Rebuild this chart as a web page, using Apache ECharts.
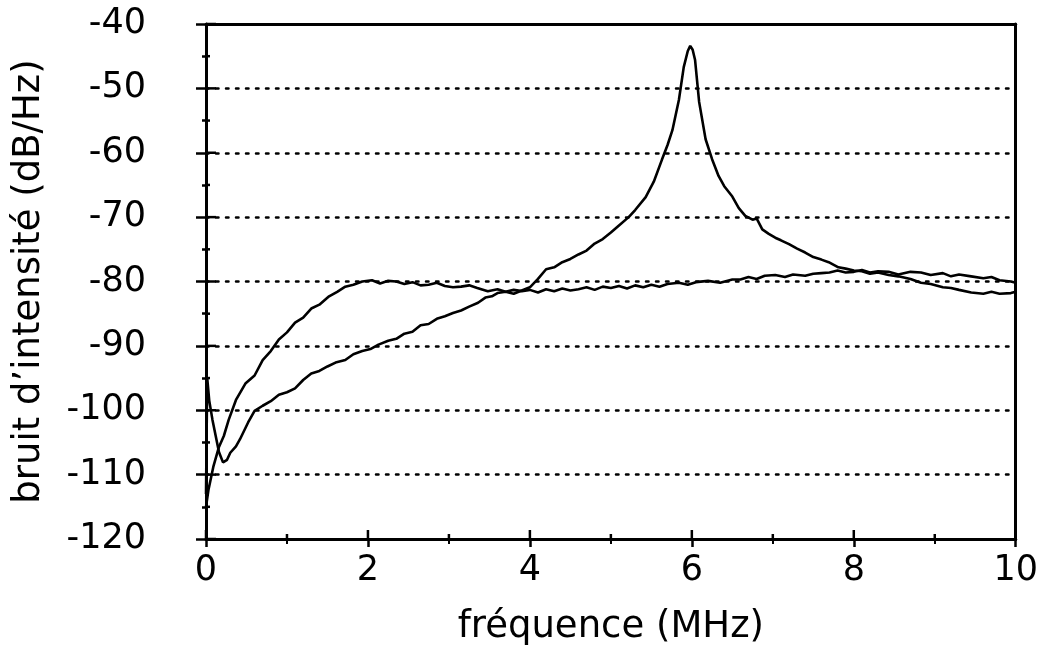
<!DOCTYPE html>
<html>
<head>
<meta charset="utf-8">
<script src="https://cdn.jsdelivr.net/npm/echarts@6/dist/echarts.min.js"></script>
<style>html,body{margin:0;padding:0;background:#fff}#c{width:1041px;height:668px}</style>
</head>
<body>
<div id="c"></div>
<script>
// x ticks and y ticks
const xTicks = [0, 2, 4, 6, 8, 10];
const xMinorTicks = [1, 3, 5, 7, 9];
const yTicks = [-120, -110, -100, -90, -80, -70, -60, -50, -40];
const yMinorTicks = [-115, -105, -95, -85, -75, -65, -55, -45];

// Curve A: flat curve (plateau from 2 MHz)
const freqA = [0,0.03,0.09,0.16,0.22,0.28,0.37,0.49,0.6,0.7,0.8,0.9,1.0,1.1,1.2,1.3,1.4,1.52,1.62,1.72,1.82,1.93,2.05,2.15,2.25,2.35,2.45,2.55,2.65,2.75,2.85,2.95,3.05,3.15,3.25,3.35,3.48,3.6,3.7,3.8,3.9,4.0,4.1,4.2,4.3,4.4,4.5,4.6,4.7,4.8,4.9,5.0,5.1,5.2,5.3,5.4,5.5,5.6,5.7,5.84,5.95,6.05,6.2,6.35,6.5,6.6,6.7,6.8,6.9,7.03,7.15,7.25,7.4,7.5,7.6,7.7,7.8,7.9,8.0,8.1,8.2,8.3,8.43,8.55,8.7,8.83,8.95,9.1,9.2,9.3,9.45,9.6,9.7,9.8,9.94,10];
const valA = [-115,-112.4,-108.8,-105.7,-104,-101.5,-98.4,-95.8,-94.6,-92.2,-90.8,-89,-87.9,-86.4,-85.6,-84.2,-83.6,-82.3,-81.6,-80.8,-80.5,-80,-79.8,-80.3,-79.9,-80,-80.4,-80.1,-80.6,-80.5,-80.2,-80.7,-80.9,-80.8,-80.6,-81,-81.5,-81.2,-81.6,-81.3,-81.5,-81.3,-81.7,-81.2,-81.5,-81.1,-81.4,-81.2,-80.9,-81.3,-80.8,-81,-80.7,-81.1,-80.6,-80.9,-80.5,-80.8,-80.4,-80.2,-80.5,-80.1,-79.9,-80.2,-79.7,-79.7,-79.3,-79.6,-79.1,-79,-79.3,-78.9,-79.1,-78.8,-78.7,-78.6,-78.3,-78.6,-78.5,-78.2,-78.6,-78.4,-78.5,-78.9,-78.5,-78.6,-79,-78.7,-79.2,-78.9,-79.2,-79.5,-79.3,-79.8,-80,-80.2];

// Curve B: curve with resonance peak at 6 MHz
const freqB = [0,0.015,0.04,0.08,0.12,0.16,0.21,0.26,0.3,0.37,0.42,0.52,0.6,0.7,0.8,0.9,1.0,1.1,1.2,1.3,1.4,1.5,1.6,1.72,1.82,1.93,2.03,2.13,2.25,2.35,2.45,2.55,2.65,2.75,2.85,2.95,3.05,3.15,3.25,3.36,3.45,3.53,3.6,3.7,3.8,3.9,4.0,4.1,4.2,4.3,4.4,4.5,4.6,4.7,4.8,4.9,5.0,5.1,5.22,5.3,5.43,5.53,5.63,5.7,5.76,5.84,5.9,5.95,5.98,6.01,6.04,6.09,6.17,6.25,6.33,6.4,6.5,6.58,6.66,6.75,6.8,6.87,6.95,7.03,7.1,7.2,7.3,7.4,7.5,7.6,7.69,7.81,7.9,8.0,8.1,8.2,8.3,8.43,8.55,8.7,8.83,8.95,9.1,9.2,9.3,9.45,9.6,9.7,9.8,9.94,10];
const valB = [-113,-95,-98.5,-101.5,-104,-106.5,-108.1,-107.7,-106.6,-105.6,-104.5,-101.9,-100.1,-99.3,-98.6,-97.6,-97.2,-96.6,-95.3,-94.3,-93.9,-93.2,-92.6,-92.2,-91.3,-90.8,-90.5,-89.8,-89.2,-88.9,-88.1,-87.8,-86.8,-86.6,-85.8,-85.4,-84.9,-84.5,-83.9,-83.3,-82.5,-82.3,-81.8,-81.6,-81.9,-81.4,-80.9,-79.6,-78.1,-77.8,-77,-76.5,-75.8,-75.2,-74.1,-73.4,-72.4,-71.3,-70,-68.9,-66.9,-64.5,-61.1,-58.8,-56.5,-51.8,-46.7,-44.2,-43.4,-44,-45.6,-52.1,-57.9,-61,-63.6,-65.2,-66.8,-68.6,-69.8,-70.4,-70.2,-71.9,-72.6,-73.2,-73.6,-74.2,-74.9,-75.5,-76.2,-76.6,-77,-77.8,-78,-78.3,-78.4,-78.8,-78.6,-79,-79.2,-79.6,-80.2,-80.4,-80.9,-81,-81.3,-81.7,-81.9,-81.6,-81.9,-81.8,-81.6];

const FONT = 'DejaVu Sans';
const black = '#000';
const xMin = xTicks[0], xMax = xTicks[xTicks.length-1], xInt = xTicks[1]-xTicks[0];
const yMin = yTicks[0], yMax = yTicks[yTicks.length-1], yInt = yTicks[1]-yTicks[0];

const chart = echarts.init(document.getElementById('c'), null, {renderer:'canvas'});

function baseX(extra){
  return Object.assign({type:'value', min:xMin, max:xMax, interval:xInt,
    splitLine:{show:false}}, extra);
}
function baseY(extra){
  return Object.assign({type:'value', min:yMin, max:yMax, interval:yInt}, extra);
}
const lineSt = {show:true, onZero:false, lineStyle:{color:black, width:3}};

chart.setOption({
  animation:false,
  backgroundColor:'#fff',
  grid:{left:206, right:23, top:24, bottom:129, containLabel:false},
  xAxis:[
    baseX({position:'bottom', offset:0,
      axisLine:lineSt,
      axisTick:{show:true, inside:false, length:8, lineStyle:{color:black, width:2.5}},
      minorTick:{show:true, splitNumber:2, length:5, lineStyle:{color:black, width:2}},
      axisLabel:{show:true, color:black, fontFamily:FONT, fontSize:35, margin:14},
      name:'fréquence (MHz)', nameLocation:'middle', nameGap:70,
      nameTextStyle:{color:black, fontFamily:FONT, fontSize:37}
    }),
    baseX({position:'top', offset:0,
      axisLine:lineSt,
      axisTick:{show:false}, axisLabel:{show:false}
    })
  ],
  yAxis:[
    baseY({position:'left', offset:0,
      axisLine:lineSt,
      axisTick:{show:true, inside:false, length:10, lineStyle:{color:black, width:2.5}},
      minorTick:{show:true, splitNumber:2, length:4, lineStyle:{color:black, width:2.5}},
      axisLabel:{show:true, color:black, fontFamily:FONT, fontSize:35, margin:60},
      splitLine:{show:true, showMinLine:false, showMaxLine:false,
        lineStyle:{color:black, width:2.5, type:[2.5,7.5], cap:'round'}},
      name:'bruit d\u2019intensité (dB/Hz)', nameLocation:'middle', nameGap:158,
      nameTextStyle:{color:black, fontFamily:FONT, fontSize:37}
    }),
    baseY({position:'right', offset:0,
      axisLine:lineSt,
      axisTick:{show:false}, axisLabel:{show:false}, splitLine:{show:false}
    })
  ],
  series:[
    {type:'line', xAxisIndex:0, yAxisIndex:0, showSymbol:false, symbol:'none',
      data:freqA.map((x,i)=>[x,valA[i]]),
      lineStyle:{color:black, width:2.6}, z:5},
    {type:'line', xAxisIndex:0, yAxisIndex:0, showSymbol:false, symbol:'none',
      data:freqB.map((x,i)=>[x,valB[i]]),
      lineStyle:{color:black, width:2.6}, z:5},
    {type:'line', xAxisIndex:1, yAxisIndex:1, data:[], symbol:'none'}
  ]
});

// inward halves of the crossing tick marks, positioned through the chart's own scales
const finder = {xAxisIndex:0, yAxisIndex:0};
const tickEls = [];
function addX(v, len){
  const p = chart.convertToPixel(finder, [v, yMin]);
  tickEls.push({type:'line', z:100, silent:true,
    shape:{x1:p[0], y1:p[1], x2:p[0], y2:p[1]-len},
    style:{stroke:black, lineWidth:2.5}});
}
function addY(v, len){
  const p = chart.convertToPixel(finder, [xMin, v]);
  tickEls.push({type:'line', z:100, silent:true,
    shape:{x1:p[0], y1:p[1], x2:p[0]+len, y2:p[1]},
    style:{stroke:black, lineWidth:2.5}});
}
xTicks.forEach(v => addX(v, 9));
xMinorTicks.forEach(v => addX(v, 5));
yTicks.forEach(v => addY(v, 10));
yMinorTicks.forEach(v => addY(v, 4));
chart.setOption({graphic:{elements:tickEls}});
</script>
</body>
</html>
